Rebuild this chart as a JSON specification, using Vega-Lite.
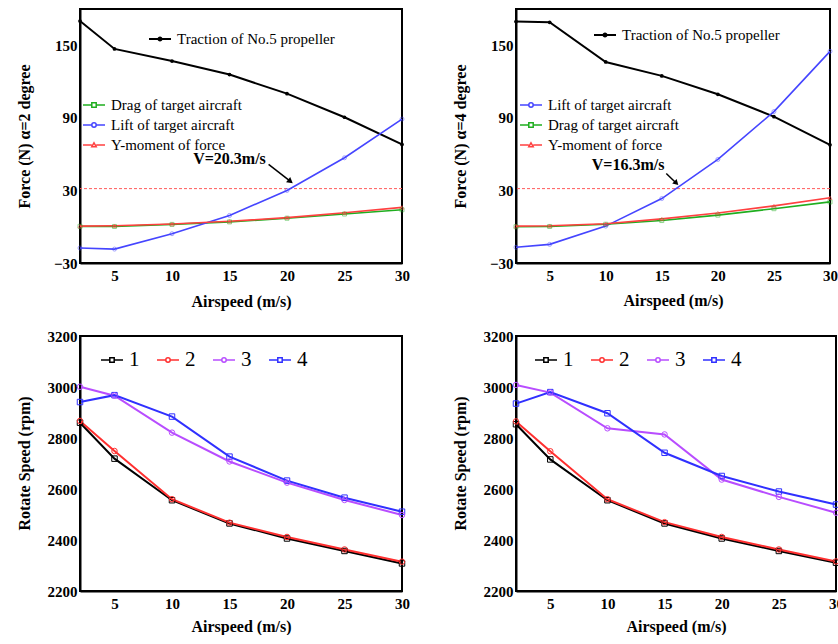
{
  "$schema": "https://vega.github.io/schema/vega-lite/v6.json",
  "background": "white",
  "padding": {"left": 14, "top": 7, "right": 0, "bottom": 0},
  "columns": 2,
  "spacing": {"row": 18, "column": 39},
  "resolve": {"scale": {"color": "independent", "stroke": "independent", "shape": "independent"}},
  "config": {
    "font": "Liberation Serif",
    "view": {"stroke": "#000000", "strokeWidth": 2},
    "axis": {"grid": false, "ticks": false, "domain": true, "domainColor": "#000000", "domainWidth": 2, "labelFont": "Liberation Serif", "labelFontWeight": "bold", "labelFontSize": 15, "labelColor": "black", "titleFont": "Liberation Serif", "titleFontWeight": "bold", "titleFontSize": 16, "titleColor": "black"},
    "axisY": {"labelPadding": 3, "titleAngle": -90, "titleBaseline": "middle", "titleAlign": "center"},
    "axisX": {"labelPadding": 5, "titleBaseline": "middle", "titleAlign": "center"},
    "legend": {"title": null, "orient": "none", "labelFont": "Liberation Serif", "labelFontWeight": "normal", "labelColor": "black", "labelLimit": 400, "symbolSize": 484, "symbolStrokeWidth": 1.5, "labelOffset": 5}
  },
  "datasets": {
    "frame": [{"x0": 2, "x1": 30}],
    "force": [
      {"a": 2, "s": "Traction of No.5 propeller", "x": 2, "y": 170},
      {"a": 2, "s": "Traction of No.5 propeller", "x": 5, "y": 147},
      {"a": 2, "s": "Traction of No.5 propeller", "x": 10, "y": 137},
      {"a": 2, "s": "Traction of No.5 propeller", "x": 15, "y": 125.8},
      {"a": 2, "s": "Traction of No.5 propeller", "x": 20, "y": 110},
      {"a": 2, "s": "Traction of No.5 propeller", "x": 25, "y": 90.5},
      {"a": 2, "s": "Traction of No.5 propeller", "x": 30, "y": 68},
      {"a": 2, "s": "Drag of target aircraft", "x": 2, "y": 0.3},
      {"a": 2, "s": "Drag of target aircraft", "x": 5, "y": 0.2},
      {"a": 2, "s": "Drag of target aircraft", "x": 10, "y": 1.9},
      {"a": 2, "s": "Drag of target aircraft", "x": 15, "y": 4},
      {"a": 2, "s": "Drag of target aircraft", "x": 20, "y": 7},
      {"a": 2, "s": "Drag of target aircraft", "x": 25, "y": 10.5},
      {"a": 2, "s": "Drag of target aircraft", "x": 30, "y": 14},
      {"a": 2, "s": "Lift of target aircraft", "x": 2, "y": -17.6},
      {"a": 2, "s": "Lift of target aircraft", "x": 5, "y": -18.5},
      {"a": 2, "s": "Lift of target aircraft", "x": 10, "y": -5.8},
      {"a": 2, "s": "Lift of target aircraft", "x": 15, "y": 9.3},
      {"a": 2, "s": "Lift of target aircraft", "x": 20, "y": 30},
      {"a": 2, "s": "Lift of target aircraft", "x": 25, "y": 57},
      {"a": 2, "s": "Lift of target aircraft", "x": 30, "y": 89},
      {"a": 2, "s": "Y-moment of force", "x": 2, "y": 0.5},
      {"a": 2, "s": "Y-moment of force", "x": 5, "y": 0.8},
      {"a": 2, "s": "Y-moment of force", "x": 10, "y": 2.2},
      {"a": 2, "s": "Y-moment of force", "x": 15, "y": 4.5},
      {"a": 2, "s": "Y-moment of force", "x": 20, "y": 7.5},
      {"a": 2, "s": "Y-moment of force", "x": 25, "y": 11.5},
      {"a": 2, "s": "Y-moment of force", "x": 30, "y": 16},
      {"a": 4, "s": "Traction of No.5 propeller", "x": 2, "y": 169.6},
      {"a": 4, "s": "Traction of No.5 propeller", "x": 5, "y": 169},
      {"a": 4, "s": "Traction of No.5 propeller", "x": 10, "y": 136.2},
      {"a": 4, "s": "Traction of No.5 propeller", "x": 15, "y": 124.7},
      {"a": 4, "s": "Traction of No.5 propeller", "x": 20, "y": 109.5},
      {"a": 4, "s": "Traction of No.5 propeller", "x": 25, "y": 91},
      {"a": 4, "s": "Traction of No.5 propeller", "x": 30, "y": 67.7},
      {"a": 4, "s": "Lift of target aircraft", "x": 2, "y": -17},
      {"a": 4, "s": "Lift of target aircraft", "x": 5, "y": -14.6},
      {"a": 4, "s": "Lift of target aircraft", "x": 10, "y": 0.5},
      {"a": 4, "s": "Lift of target aircraft", "x": 15, "y": 23.3},
      {"a": 4, "s": "Lift of target aircraft", "x": 20, "y": 55.6},
      {"a": 4, "s": "Lift of target aircraft", "x": 25, "y": 95.2},
      {"a": 4, "s": "Lift of target aircraft", "x": 30, "y": 145},
      {"a": 4, "s": "Drag of target aircraft", "x": 2, "y": 0},
      {"a": 4, "s": "Drag of target aircraft", "x": 5, "y": 0.2},
      {"a": 4, "s": "Drag of target aircraft", "x": 10, "y": 2},
      {"a": 4, "s": "Drag of target aircraft", "x": 15, "y": 5.1},
      {"a": 4, "s": "Drag of target aircraft", "x": 20, "y": 9.6},
      {"a": 4, "s": "Drag of target aircraft", "x": 25, "y": 14.9},
      {"a": 4, "s": "Drag of target aircraft", "x": 30, "y": 20.5},
      {"a": 4, "s": "Y-moment of force", "x": 2, "y": 0.5},
      {"a": 4, "s": "Y-moment of force", "x": 5, "y": 0.8},
      {"a": 4, "s": "Y-moment of force", "x": 10, "y": 2.5},
      {"a": 4, "s": "Y-moment of force", "x": 15, "y": 6.5},
      {"a": 4, "s": "Y-moment of force", "x": 20, "y": 11.3},
      {"a": 4, "s": "Y-moment of force", "x": 25, "y": 17.2},
      {"a": 4, "s": "Y-moment of force", "x": 30, "y": 24}
    ],
    "notes": [
      {"a": 2, "label": "V=20.3m/s", "tx": 15, "ty": 56, "x1": 18.4, "y1": 51.5, "x2": 20.3, "y2": 37.5, "thr": 31.5},
      {"a": 4, "label": "V=16.3m/s", "tx": 12, "ty": 51, "x1": 15.4, "y1": 44, "x2": 16.3, "y2": 36, "thr": 31.5}
    ],
    "rpm": [
      {"p": 1, "s": "1", "x": 2, "y": 2860}, {"p": 1, "s": "1", "x": 5, "y": 2719}, {"p": 1, "s": "1", "x": 10, "y": 2556}, {"p": 1, "s": "1", "x": 15, "y": 2465}, {"p": 1, "s": "1", "x": 20, "y": 2406}, {"p": 1, "s": "1", "x": 25, "y": 2357}, {"p": 1, "s": "1", "x": 30, "y": 2308},
      {"p": 1, "s": "2", "x": 2, "y": 2867}, {"p": 1, "s": "2", "x": 5, "y": 2749}, {"p": 1, "s": "2", "x": 10, "y": 2560}, {"p": 1, "s": "2", "x": 15, "y": 2468}, {"p": 1, "s": "2", "x": 20, "y": 2412}, {"p": 1, "s": "2", "x": 25, "y": 2363}, {"p": 1, "s": "2", "x": 30, "y": 2315},
      {"p": 1, "s": "3", "x": 2, "y": 3001}, {"p": 1, "s": "3", "x": 5, "y": 2966}, {"p": 1, "s": "3", "x": 10, "y": 2821}, {"p": 1, "s": "3", "x": 15, "y": 2708}, {"p": 1, "s": "3", "x": 20, "y": 2625}, {"p": 1, "s": "3", "x": 25, "y": 2557}, {"p": 1, "s": "3", "x": 30, "y": 2498},
      {"p": 1, "s": "4", "x": 2, "y": 2941}, {"p": 1, "s": "4", "x": 5, "y": 2968}, {"p": 1, "s": "4", "x": 10, "y": 2884}, {"p": 1, "s": "4", "x": 15, "y": 2727}, {"p": 1, "s": "4", "x": 20, "y": 2633}, {"p": 1, "s": "4", "x": 25, "y": 2566}, {"p": 1, "s": "4", "x": 30, "y": 2511},
      {"p": 2, "s": "1", "x": 2, "y": 2854}, {"p": 2, "s": "1", "x": 5, "y": 2716}, {"p": 2, "s": "1", "x": 10, "y": 2556}, {"p": 2, "s": "1", "x": 15, "y": 2465}, {"p": 2, "s": "1", "x": 20, "y": 2406}, {"p": 2, "s": "1", "x": 25, "y": 2357}, {"p": 2, "s": "1", "x": 30, "y": 2311},
      {"p": 2, "s": "2", "x": 2, "y": 2865}, {"p": 2, "s": "2", "x": 5, "y": 2748}, {"p": 2, "s": "2", "x": 10, "y": 2560}, {"p": 2, "s": "2", "x": 15, "y": 2470}, {"p": 2, "s": "2", "x": 20, "y": 2412}, {"p": 2, "s": "2", "x": 25, "y": 2363}, {"p": 2, "s": "2", "x": 30, "y": 2316},
      {"p": 2, "s": "3", "x": 2, "y": 3008}, {"p": 2, "s": "3", "x": 5, "y": 2978}, {"p": 2, "s": "3", "x": 10, "y": 2838}, {"p": 2, "s": "3", "x": 15, "y": 2814}, {"p": 2, "s": "3", "x": 20, "y": 2637}, {"p": 2, "s": "3", "x": 25, "y": 2569}, {"p": 2, "s": "3", "x": 30, "y": 2507},
      {"p": 2, "s": "4", "x": 2, "y": 2935}, {"p": 2, "s": "4", "x": 5, "y": 2980}, {"p": 2, "s": "4", "x": 10, "y": 2897}, {"p": 2, "s": "4", "x": 15, "y": 2742}, {"p": 2, "s": "4", "x": 20, "y": 2651}, {"p": 2, "s": "4", "x": 25, "y": 2590}, {"p": 2, "s": "4", "x": 30, "y": 2539}
    ]
  },
  "concat": [
    {
      "width": 322, "height": 254,
      "layer": [
        {
          "data": {"name": "force"},
          "transform": [{"filter": "datum.a == 2 && datum.s == 'Traction of No.5 propeller'"}],
          "mark": {"type": "line", "strokeWidth": 2},
          "encoding": {
            "x": {"field": "x", "type": "quantitative", "scale": {"domain": [2, 30], "nice": false, "zero": false}, "axis": {"values": [5, 10, 15, 20, 25, 30], "labelOverlap": false, "labelFlush": false, "title": "Airspeed (m/s)", "titleX": 161, "titleY": 38}},
            "y": {"field": "y", "type": "quantitative", "scale": {"domain": [-30, 180], "nice": false, "zero": false}, "axis": {"values": [-30, 0, 30, 60, 90, 120, 150, 180], "labelOverlap": false, "title": "Force (N) α=2 degree", "titleX": -56, "titleY": 127}},
            "color": {"field": "s", "type": "nominal", "scale": {"domain": ["Traction of No.5 propeller"], "range": ["#000000"]},
              "legend": {"legendX": 68, "legendY": 18, "labelFont": "Liberation Serif", "labelFontSize": 15, "symbolSize": 484, "symbolType": "M-1,0H1M-0.14,0A0.14,0.14,0,1,0,0.14,0A0.14,0.14,0,1,0,-0.14,0Z", "symbolStrokeWidth": 2,
                "encode": {"symbols": {"update": {"fill": {"value": "#000000"}, "size": {"value": 484}}}}}}
          }
        },
        {
          "data": {"name": "frame"},
          "mark": {"type": "rect", "fill": null, "stroke": "#000000", "strokeWidth": 2},
          "encoding": {"x": {"field": "x0", "type": "quantitative", "axis": {"labelOverlap": false}}, "x2": {"field": "x1"}, "y": {"datum": -30, "type": "quantitative", "axis": {"labelOverlap": false}}, "y2": {"datum": 180}}
        },
        {
          "data": {"name": "notes"},
          "transform": [{"filter": "datum.a == 2"}],
          "mark": {"type": "rule", "color": "#ff5a5a", "strokeDash": [3, 2], "strokeWidth": 1},
          "encoding": {"y": {"field": "thr", "type": "quantitative", "axis": {"labelOverlap": false}}}
        },
        {
          "data": {"name": "force"},
          "transform": [{"filter": "datum.a == 2 && datum.s == 'Traction of No.5 propeller'"}],
          "mark": {"type": "point", "filled": true, "size": 14, "color": "#000000", "opacity": 1},
          "encoding": {"x": {"field": "x", "type": "quantitative", "axis": {"labelOverlap": false}}, "y": {"field": "y", "type": "quantitative", "axis": {"labelOverlap": false}}}
        },
        {
          "data": {"name": "force"},
          "transform": [{"filter": "datum.a == 2 && datum.s != 'Traction of No.5 propeller'"}],
          "mark": {"type": "line", "strokeWidth": 1.6},
          "encoding": {
            "x": {"field": "x", "type": "quantitative", "axis": {"labelOverlap": false}},
            "y": {"field": "y", "type": "quantitative", "axis": {"labelOverlap": false}},
            "stroke": {"field": "s", "type": "nominal", "scale": {"domain": ["Drag of target aircraft", "Lift of target aircraft", "Y-moment of force"], "range": ["#1fae1f", "#4545ff", "#ff4040"]},
              "legend": {"legendX": 2, "legendY": 84, "labelFont": "Liberation Serif", "labelFontSize": 15, "symbolSize": 484, "rowPadding": -3, "symbolType": "M-1,0H1",
                "encode": {"symbols": {"update": {"fill": {"value": "white"}, "size": {"value": 484}, "shape": {"signal": "datum.value == 'Drag of target aircraft' ? 'M-1,0H-0.2M0.2,0H1M-0.2,-0.2H0.2V0.2H-0.2Z' : datum.value == 'Lift of target aircraft' ? 'M-1,0H-0.2M0.2,0H1M-0.2,0A0.2,0.2,0,1,0,0.2,0A0.2,0.2,0,1,0,-0.2,0Z' : 'M-1,0H-0.2M0.2,0H1M0,-0.2L0.2,0.15H-0.2Z'"}}}}}}
          }
        },
        {
          "data": {"name": "force"},
          "transform": [{"filter": "datum.a == 2 && datum.s == 'Drag of target aircraft'"}],
          "mark": {"type": "point", "shape": "square", "filled": false, "size": 16, "strokeWidth": 1, "color": "#1fae1f", "opacity": 0.5},
          "encoding": {"x": {"field": "x", "type": "quantitative", "axis": {"labelOverlap": false}}, "y": {"field": "y", "type": "quantitative", "axis": {"labelOverlap": false}}}
        },
        {
          "data": {"name": "force"},
          "transform": [{"filter": "datum.a == 2 && datum.s == 'Lift of target aircraft'"}],
          "mark": {"type": "point", "shape": "circle", "filled": false, "size": 16, "strokeWidth": 1, "color": "#4545ff", "opacity": 0.5},
          "encoding": {"x": {"field": "x", "type": "quantitative", "axis": {"labelOverlap": false}}, "y": {"field": "y", "type": "quantitative", "axis": {"labelOverlap": false}}}
        },
        {
          "data": {"name": "force"},
          "transform": [{"filter": "datum.a == 2 && datum.s == 'Y-moment of force'"}],
          "mark": {"type": "point", "shape": "triangle-up", "filled": false, "size": 16, "strokeWidth": 1, "color": "#ff4040", "opacity": 0.5},
          "encoding": {"x": {"field": "x", "type": "quantitative", "axis": {"labelOverlap": false}}, "y": {"field": "y", "type": "quantitative", "axis": {"labelOverlap": false}}}
        },
        {
          "data": {"name": "notes"},
          "transform": [{"filter": "datum.a == 2"}],
          "mark": {"type": "rule", "color": "#000000", "strokeWidth": 1.5},
          "encoding": {"x": {"field": "x1", "type": "quantitative", "axis": {"labelOverlap": false}}, "y": {"field": "y1", "type": "quantitative", "axis": {"labelOverlap": false}}, "x2": {"field": "x2"}, "y2": {"field": "y2"}}
        },
        {
          "data": {"name": "notes"},
          "transform": [{"filter": "datum.a == 2"}],
          "mark": {"type": "point", "shape": "triangle-up", "filled": true, "color": "#000000", "size": 45, "angle": 128, "opacity": 1},
          "encoding": {"x": {"field": "x2", "type": "quantitative", "axis": {"labelOverlap": false}}, "y": {"field": "y2", "type": "quantitative", "axis": {"labelOverlap": false}}}
        },
        {
          "data": {"name": "notes"},
          "transform": [{"filter": "datum.a == 2"}],
          "mark": {"type": "text", "font": "Liberation Serif", "fontWeight": "bold", "fontSize": 16, "color": "#000000", "align": "center", "baseline": "middle"},
          "encoding": {"x": {"field": "tx", "type": "quantitative", "axis": {"labelOverlap": false}}, "y": {"field": "ty", "type": "quantitative", "axis": {"labelOverlap": false}}, "text": {"field": "label"}}
        }
      ]
    },
    {
      "width": 314, "height": 254,
      "layer": [
        {
          "data": {"name": "force"},
          "transform": [{"filter": "datum.a == 4 && datum.s == 'Traction of No.5 propeller'"}],
          "mark": {"type": "line", "strokeWidth": 2},
          "encoding": {
            "x": {"field": "x", "type": "quantitative", "scale": {"domain": [2, 30], "nice": false, "zero": false}, "axis": {"values": [5, 10, 15, 20, 25, 30], "labelOverlap": false, "labelFlush": false, "title": "Airspeed (m/s)", "titleX": 157, "titleY": 37}},
            "y": {"field": "y", "type": "quantitative", "scale": {"domain": [-30, 180], "nice": false, "zero": false}, "axis": {"values": [-30, 0, 30, 60, 90, 120, 150, 180], "labelOverlap": false, "title": "Force (N) α=4 degree", "titleX": -56, "titleY": 127}},
            "color": {"field": "s", "type": "nominal", "scale": {"domain": ["Traction of No.5 propeller"], "range": ["#000000"]},
              "legend": {"legendX": 77, "legendY": 14, "labelFont": "Liberation Serif", "labelFontSize": 15, "symbolSize": 484, "symbolType": "M-1,0H1M-0.14,0A0.14,0.14,0,1,0,0.14,0A0.14,0.14,0,1,0,-0.14,0Z", "symbolStrokeWidth": 2,
                "encode": {"symbols": {"update": {"fill": {"value": "#000000"}, "size": {"value": 484}}}}}}
          }
        },
        {
          "data": {"name": "frame"},
          "mark": {"type": "rect", "fill": null, "stroke": "#000000", "strokeWidth": 2},
          "encoding": {"x": {"field": "x0", "type": "quantitative", "axis": {"labelOverlap": false}}, "x2": {"field": "x1"}, "y": {"datum": -30, "type": "quantitative", "axis": {"labelOverlap": false}}, "y2": {"datum": 180}}
        },
        {
          "data": {"name": "notes"},
          "transform": [{"filter": "datum.a == 4"}],
          "mark": {"type": "rule", "color": "#ff5a5a", "strokeDash": [3, 2], "strokeWidth": 1},
          "encoding": {"y": {"field": "thr", "type": "quantitative", "axis": {"labelOverlap": false}}}
        },
        {
          "data": {"name": "force"},
          "transform": [{"filter": "datum.a == 4 && datum.s == 'Traction of No.5 propeller'"}],
          "mark": {"type": "point", "filled": true, "size": 14, "color": "#000000", "opacity": 1},
          "encoding": {"x": {"field": "x", "type": "quantitative", "axis": {"labelOverlap": false}}, "y": {"field": "y", "type": "quantitative", "axis": {"labelOverlap": false}}}
        },
        {
          "data": {"name": "force"},
          "transform": [{"filter": "datum.a == 4 && datum.s != 'Traction of No.5 propeller'"}],
          "mark": {"type": "line", "strokeWidth": 1.6},
          "encoding": {
            "x": {"field": "x", "type": "quantitative", "axis": {"labelOverlap": false}},
            "y": {"field": "y", "type": "quantitative", "axis": {"labelOverlap": false}},
            "stroke": {"field": "s", "type": "nominal", "scale": {"domain": ["Lift of target aircraft", "Drag of target aircraft", "Y-moment of force"], "range": ["#4545ff", "#1fae1f", "#ff4040"]},
              "legend": {"legendX": 3, "legendY": 84, "labelFont": "Liberation Serif", "labelFontSize": 15, "symbolSize": 484, "rowPadding": -1, "symbolType": "M-1,0H1",
                "encode": {"symbols": {"update": {"fill": {"value": "white"}, "size": {"value": 484}, "shape": {"signal": "datum.value == 'Drag of target aircraft' ? 'M-1,0H-0.2M0.2,0H1M-0.2,-0.2H0.2V0.2H-0.2Z' : datum.value == 'Lift of target aircraft' ? 'M-1,0H-0.2M0.2,0H1M-0.2,0A0.2,0.2,0,1,0,0.2,0A0.2,0.2,0,1,0,-0.2,0Z' : 'M-1,0H-0.2M0.2,0H1M0,-0.2L0.2,0.15H-0.2Z'"}}}}}}
          }
        },
        {
          "data": {"name": "force"},
          "transform": [{"filter": "datum.a == 4 && datum.s == 'Drag of target aircraft'"}],
          "mark": {"type": "point", "shape": "square", "filled": false, "size": 16, "strokeWidth": 1, "color": "#1fae1f", "opacity": 0.5},
          "encoding": {"x": {"field": "x", "type": "quantitative", "axis": {"labelOverlap": false}}, "y": {"field": "y", "type": "quantitative", "axis": {"labelOverlap": false}}}
        },
        {
          "data": {"name": "force"},
          "transform": [{"filter": "datum.a == 4 && datum.s == 'Lift of target aircraft'"}],
          "mark": {"type": "point", "shape": "circle", "filled": false, "size": 16, "strokeWidth": 1, "color": "#4545ff", "opacity": 0.5},
          "encoding": {"x": {"field": "x", "type": "quantitative", "axis": {"labelOverlap": false}}, "y": {"field": "y", "type": "quantitative", "axis": {"labelOverlap": false}}}
        },
        {
          "data": {"name": "force"},
          "transform": [{"filter": "datum.a == 4 && datum.s == 'Y-moment of force'"}],
          "mark": {"type": "point", "shape": "triangle-up", "filled": false, "size": 16, "strokeWidth": 1, "color": "#ff4040", "opacity": 0.5},
          "encoding": {"x": {"field": "x", "type": "quantitative", "axis": {"labelOverlap": false}}, "y": {"field": "y", "type": "quantitative", "axis": {"labelOverlap": false}}}
        },
        {
          "data": {"name": "notes"},
          "transform": [{"filter": "datum.a == 4"}],
          "mark": {"type": "rule", "color": "#000000", "strokeWidth": 1.5},
          "encoding": {"x": {"field": "x1", "type": "quantitative", "axis": {"labelOverlap": false}}, "y": {"field": "y1", "type": "quantitative", "axis": {"labelOverlap": false}}, "x2": {"field": "x2"}, "y2": {"field": "y2"}}
        },
        {
          "data": {"name": "notes"},
          "transform": [{"filter": "datum.a == 4"}],
          "mark": {"type": "point", "shape": "triangle-up", "filled": true, "color": "#000000", "size": 40, "angle": 135, "opacity": 1},
          "encoding": {"x": {"field": "x2", "type": "quantitative", "axis": {"labelOverlap": false}}, "y": {"field": "y2", "type": "quantitative", "axis": {"labelOverlap": false}}}
        },
        {
          "data": {"name": "notes"},
          "transform": [{"filter": "datum.a == 4"}],
          "mark": {"type": "text", "font": "Liberation Serif", "fontWeight": "bold", "fontSize": 16, "color": "#000000", "align": "center", "baseline": "middle"},
          "encoding": {"x": {"field": "tx", "type": "quantitative", "axis": {"labelOverlap": false}}, "y": {"field": "ty", "type": "quantitative", "axis": {"labelOverlap": false}}, "text": {"field": "label"}}
        }
      ]
    },
    {
      "width": 322, "height": 255,
      "layer": [
        {
          "data": {"name": "rpm"},
          "transform": [{"filter": "datum.p == 1"}],
          "mark": {"type": "line", "strokeWidth": 2},
          "encoding": {
            "x": {"field": "x", "type": "quantitative", "scale": {"domain": [2, 30], "nice": false, "zero": false}, "axis": {"values": [5, 10, 15, 20, 25, 30], "labelOverlap": false, "labelFlush": false, "title": "Airspeed (m/s)", "titleX": 161, "titleY": 35}},
            "y": {"field": "y", "type": "quantitative", "scale": {"domain": [2200, 3200], "nice": false, "zero": false}, "axis": {"values": [2200, 2400, 2600, 2800, 3000, 3200], "format": "d", "labelOverlap": false, "title": "Rotate Speed (rpm)", "titleX": -56, "titleY": 127}},
            "color": {"field": "s", "type": "nominal", "scale": {"domain": ["1", "2", "3", "4"], "range": ["#000000", "#ff3030", "#b84dff", "#3030ff"]},
              "legend": {"legendX": 20, "legendY": 12, "direction": "horizontal", "columns": 4, "columnPadding": 14, "labelFont": "Liberation Serif", "labelFontSize": 21, "symbolSize": 484, "symbolStrokeWidth": 1.5,
                "encode": {"symbols": {"update": {"fill": {"value": "white"}, "size": {"value": 484}, "shape": {"signal": "datum.value == '1' || datum.value == '4' ? 'M-1,0H-0.2M0.2,0H1M-0.2,-0.2H0.2V0.2H-0.2Z' : 'M-1,0H-0.2M0.2,0H1M-0.2,0A0.2,0.2,0,1,0,0.2,0A0.2,0.2,0,1,0,-0.2,0Z'"}}}}}}
          }
        },
        {
          "data": {"name": "frame"},
          "mark": {"type": "rect", "fill": null, "stroke": "#000000", "strokeWidth": 2},
          "encoding": {"x": {"field": "x0", "type": "quantitative", "axis": {"labelOverlap": false}}, "x2": {"field": "x1"}, "y": {"datum": 2200, "type": "quantitative", "axis": {"labelOverlap": false}}, "y2": {"datum": 3200}}
        },
        {
          "data": {"name": "rpm"},
          "transform": [{"filter": "datum.p == 1 && (datum.s == '1' || datum.s == '4')"}],
          "mark": {"type": "point", "shape": "square", "filled": false, "size": 30, "strokeWidth": 1, "opacity": 1},
          "encoding": {
            "x": {"field": "x", "type": "quantitative", "axis": {"labelOverlap": false}},
            "y": {"field": "y", "type": "quantitative", "axis": {"labelOverlap": false}},
            "stroke": {"field": "s", "type": "nominal", "scale": {"domain": ["1", "2", "3", "4"], "range": ["#000000", "#ff3030", "#b84dff", "#3030ff"]}, "legend": null}
          }
        },
        {
          "data": {"name": "rpm"},
          "transform": [{"filter": "datum.p == 1 && (datum.s == '2' || datum.s == '3')"}],
          "mark": {"type": "point", "shape": "circle", "filled": false, "size": 30, "strokeWidth": 1, "opacity": 1},
          "encoding": {
            "x": {"field": "x", "type": "quantitative", "axis": {"labelOverlap": false}},
            "y": {"field": "y", "type": "quantitative", "axis": {"labelOverlap": false}},
            "stroke": {"field": "s", "type": "nominal", "legend": null}
          }
        }
      ]
    },
    {
      "width": 320, "height": 255,
      "layer": [
        {
          "data": {"name": "rpm"},
          "transform": [{"filter": "datum.p == 2"}],
          "mark": {"type": "line", "strokeWidth": 2},
          "encoding": {
            "x": {"field": "x", "type": "quantitative", "scale": {"domain": [2, 30], "nice": false, "zero": false}, "axis": {"values": [5, 10, 15, 20, 25, 30], "labelOverlap": false, "labelFlush": false, "title": "Airspeed (m/s)", "titleX": 160, "titleY": 35}},
            "y": {"field": "y", "type": "quantitative", "scale": {"domain": [2200, 3200], "nice": false, "zero": false}, "axis": {"values": [2200, 2400, 2600, 2800, 3000, 3200], "format": "d", "labelOverlap": false, "title": "Rotate Speed (rpm)", "titleX": -56, "titleY": 127}},
            "color": {"field": "s", "type": "nominal", "scale": {"domain": ["1", "2", "3", "4"], "range": ["#000000", "#ff3030", "#b84dff", "#3030ff"]},
              "legend": {"legendX": 18, "legendY": 12, "direction": "horizontal", "columns": 4, "columnPadding": 14, "labelFont": "Liberation Serif", "labelFontSize": 21, "symbolSize": 484, "symbolStrokeWidth": 1.5,
                "encode": {"symbols": {"update": {"fill": {"value": "white"}, "size": {"value": 484}, "shape": {"signal": "datum.value == '1' || datum.value == '4' ? 'M-1,0H-0.2M0.2,0H1M-0.2,-0.2H0.2V0.2H-0.2Z' : 'M-1,0H-0.2M0.2,0H1M-0.2,0A0.2,0.2,0,1,0,0.2,0A0.2,0.2,0,1,0,-0.2,0Z'"}}}}}}
          }
        },
        {
          "data": {"name": "frame"},
          "mark": {"type": "rect", "fill": null, "stroke": "#000000", "strokeWidth": 2},
          "encoding": {"x": {"field": "x0", "type": "quantitative", "axis": {"labelOverlap": false}}, "x2": {"field": "x1"}, "y": {"datum": 2200, "type": "quantitative", "axis": {"labelOverlap": false}}, "y2": {"datum": 3200}}
        },
        {
          "data": {"name": "rpm"},
          "transform": [{"filter": "datum.p == 2 && (datum.s == '1' || datum.s == '4')"}],
          "mark": {"type": "point", "shape": "square", "filled": false, "size": 30, "strokeWidth": 1, "opacity": 1},
          "encoding": {
            "x": {"field": "x", "type": "quantitative", "axis": {"labelOverlap": false}},
            "y": {"field": "y", "type": "quantitative", "axis": {"labelOverlap": false}},
            "stroke": {"field": "s", "type": "nominal", "scale": {"domain": ["1", "2", "3", "4"], "range": ["#000000", "#ff3030", "#b84dff", "#3030ff"]}, "legend": null}
          }
        },
        {
          "data": {"name": "rpm"},
          "transform": [{"filter": "datum.p == 2 && (datum.s == '2' || datum.s == '3')"}],
          "mark": {"type": "point", "shape": "circle", "filled": false, "size": 30, "strokeWidth": 1, "opacity": 1},
          "encoding": {
            "x": {"field": "x", "type": "quantitative", "axis": {"labelOverlap": false}},
            "y": {"field": "y", "type": "quantitative", "axis": {"labelOverlap": false}},
            "stroke": {"field": "s", "type": "nominal", "legend": null}
          }
        }
      ]
    }
  ]
}
